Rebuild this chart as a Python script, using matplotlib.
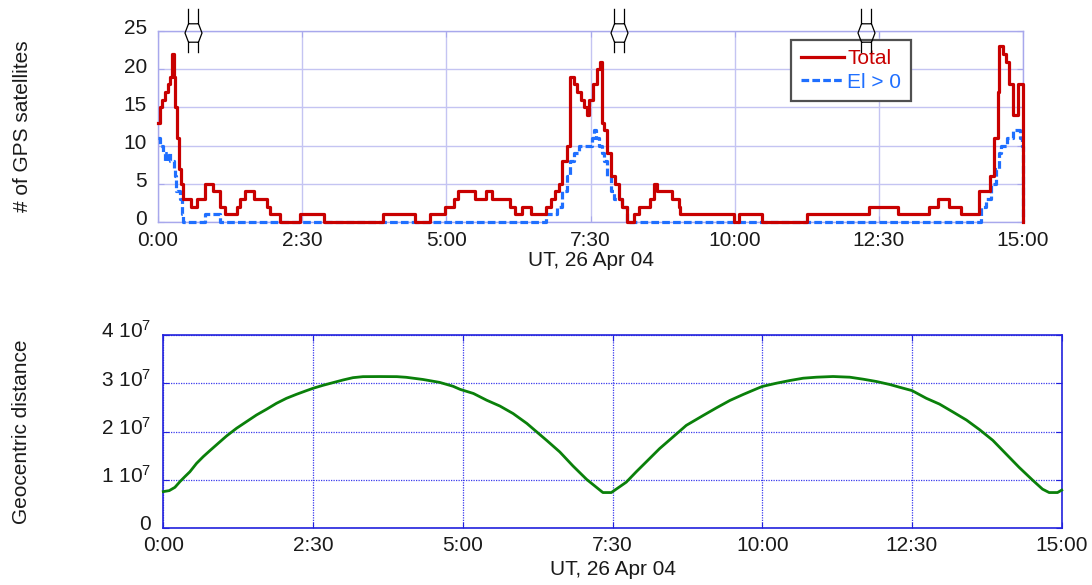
import numpy as np
import matplotlib
matplotlib.use('Agg')
import matplotlib.pyplot as plt
import matplotlib.transforms as mtransforms
from matplotlib.path import Path

plt.rcParams['font.family'] = ['Liberation Sans', 'DejaVu Sans']
plt.rcParams['mathtext.fontset'] = 'custom'
plt.rcParams['mathtext.rm'] = 'Liberation Sans'
plt.rcParams['mathtext.default'] = 'regular'

# ---------------- data ----------------
time_ticks = [0, 2.5, 5, 7.5, 10, 12.5, 15]
time_labels = ['0:00', '2:30', '5:00', '7:30', '10:00', '12:30', '15:00']
gps_ticks = [0, 5, 10, 15, 20, 25]
dist_ticks = [0, 1e7, 2e7, 3e7, 4e7]
dist_labels = ['0', '1 10$^{7}$', '2 10$^{7}$', '3 10$^{7}$', '4 10$^{7}$']
x_title = 'UT, 26 Apr 04'

# Total number of GPS satellites (step changes: hour, count)
total_t = [0.00, 0.035, 0.064, 0.12, 0.18, 0.21, 0.24, 0.25, 0.27, 0.30, 0.33, 0.37, 0.40, 0.43,
           0.58, 0.67, 0.82, 0.96, 1.08, 1.16, 1.37, 1.43, 1.51, 1.66, 1.89, 1.94, 2.12, 2.47,
           2.87, 3.91, 4.46, 4.72, 4.98, 5.13, 5.21, 5.50, 5.68, 5.79, 6.11, 6.19, 6.31, 6.46,
           6.72, 6.81, 6.89, 6.95, 7.01, 7.09, 7.15, 7.21, 7.27, 7.33, 7.38, 7.44, 7.48, 7.55,
           7.62, 7.67, 7.70, 7.73, 7.79, 7.85, 7.93, 7.99, 8.05, 8.14, 8.25, 8.34, 8.54, 8.60,
           8.66, 8.92, 9.03, 9.06, 9.99, 10.08, 10.48, 11.26, 12.33, 12.83, 13.37, 13.52, 13.72,
           13.92, 14.24, 14.42, 14.50, 14.56, 14.59, 14.65, 14.71, 14.76, 14.82, 14.91, 15.0]
total_n = [13, 15, 16, 17, 18, 19, 21, 22, 19, 15, 11, 7, 5, 3,
           2, 3, 5, 4, 2, 1, 2, 3, 4, 3, 2, 1, 0, 1,
           0, 1, 0, 1, 2, 3, 4, 3, 4, 3, 2, 1, 2, 1,
           2, 3, 4, 5, 8, 10, 19, 18, 17, 16, 15, 14, 16, 18,
           20, 21, 13, 12, 9, 6, 5, 3, 2, 0, 1, 2, 3, 5,
           4, 3, 2, 1, 0, 1, 0, 1, 2, 1, 2, 3, 2,
           1, 4, 6, 11, 17, 23, 22, 21, 18, 14, 18, 0]

# Satellites with elevation > 0
el_t = [0.00, 0.035, 0.09, 0.12, 0.15, 0.20, 0.27, 0.30, 0.32, 0.38, 0.41, 0.44, 0.82, 1.08,
        6.72, 6.92, 7.01, 7.09, 7.15, 7.21, 7.30, 7.53, 7.56, 7.59, 7.64, 7.70, 7.73, 7.79,
        7.85, 7.90, 8.05, 8.14, 14.27, 14.36, 14.44, 14.53, 14.59, 14.62, 14.73, 14.82, 14.94,
        14.99, 15.0]
el_n = [11, 10, 9, 8, 9, 8, 7, 6, 4, 3, 1, 0, 1, 0,
        1, 2, 4, 6, 8, 9, 10, 11, 12, 11, 10, 9, 8, 6,
        4, 3, 2, 0, 2, 3, 5, 7, 9, 10, 11, 12, 11,
        10, 0]

# Hourglass markers along the top edge (hour)
marker_times = [0.61, 7.99, 12.28]

# Geocentric distance (hour, units of 1e7)
dist_t = [0.00, 0.10, 0.194, 0.278, 0.361, 0.444, 0.556, 0.667, 0.778, 0.917, 1.056, 1.222,
          1.389, 1.556, 1.722, 1.889, 2.056, 2.222, 2.389, 2.50, 2.667, 2.833, 3.00, 3.167,
          3.333, 3.61, 3.90, 4.055, 4.334, 4.612, 4.835, 4.956, 5.178, 5.40, 5.62, 5.84,
          6.07, 6.23, 6.40, 6.62, 6.84, 7.07, 7.23, 7.34, 7.48, 7.62, 7.73, 7.897,
          8.064, 8.287, 8.51, 8.732, 9.017, 9.239, 9.461, 9.683, 9.906, 10.0, 10.239, 10.461,
          10.683, 10.906, 11.183, 11.461, 11.683, 11.906, 12.128, 12.29, 12.50, 12.74, 12.96,
          13.18, 13.41, 13.63, 13.85, 14.07, 14.29, 14.52, 14.68, 14.79, 14.93, 15.0]
dist_v = [0.759, 0.78, 0.848, 0.966, 1.07, 1.17, 1.345, 1.483, 1.607, 1.759, 1.91, 2.069,
          2.207, 2.345, 2.462, 2.586, 2.69, 2.772, 2.848, 2.897, 2.959, 3.014, 3.069, 3.117,
          3.138, 3.14, 3.138, 3.125, 3.08, 3.02, 2.94, 2.875, 2.79, 2.65, 2.53, 2.375,
          2.17, 2.00, 1.82, 1.58, 1.29, 1.01, 0.85, 0.74, 0.74, 0.86, 0.955, 1.17,
          1.375, 1.65, 1.89, 2.13, 2.337, 2.495, 2.646, 2.77, 2.887, 2.935, 3.003, 3.058,
          3.106, 3.127, 3.141, 3.127, 3.086, 3.038, 2.976, 2.92, 2.85, 2.69, 2.57,
          2.41, 2.24, 2.04, 1.82, 1.54, 1.26, 0.99, 0.81, 0.74, 0.74, 0.79]

# ---------------- figure ----------------
W, H = 1092, 585
fig = plt.figure(figsize=(W / 100, H / 100), dpi=100)
ax1 = fig.add_axes([158 / W, 1 - 222 / H, 865 / W, 191 / H])
ax2 = fig.add_axes([163.3 / W, 1 - 528.3 / H, 898.4 / W, 193.3 / H])

FS = 15
txt_col = '#1a1a1a'


def lift_labels(ax, pts):
    off = mtransforms.ScaledTranslation(0, pts / 72, fig.dpi_scale_trans)
    for lab in ax.get_yticklabels():
        lab.set_transform(lab.get_transform() + off)


# ---- top panel ----
ax1.plot(el_t, el_n, drawstyle='steps-post', color='#1f6fff', lw=2.3,
         ls=(0, (2.4, 1.0)), label='El > 0', clip_on=False, zorder=3)
ax1.plot(total_t, total_n, drawstyle='steps-post', color='#c80000', lw=2.3,
         label='Total', clip_on=False, zorder=4)
ax1.set_xlim(0, 15)
ax1.set_ylim(0, 25)
ax1.set_xticks(time_ticks)
ax1.set_xticklabels(time_labels)
ax1.set_yticks(gps_ticks)
ax1.grid(True, color='#c4c4f2', lw=1.0, ls='-')
ax1.set_axisbelow(True)
for s in ax1.spines.values():
    s.set_color('#a8a8ec')
    s.set_linewidth(1.0)
ax1.tick_params(axis='both', direction='in', length=4, color='#a8a8ec',
                labelsize=FS, labelcolor=txt_col, right=True, top=True)
ax1.tick_params(axis='x', pad=6.5)
ax1.tick_params(axis='y', pad=8)
lift_labels(ax1, 2.9)
ax1.set_ylabel('# of GPS satellites', fontsize=FS, color=txt_col)
ax1.yaxis.set_label_coords(-0.1457, 0.5)
ax1.set_xlabel(x_title, fontsize=FS, color=txt_col)
ax1.xaxis.set_label_coords(0.5, -0.152)

handles, labels = ax1.get_legend_handles_labels()
leg = ax1.legend(handles[::-1], labels[::-1], loc='upper left', bbox_to_anchor=(0.732, 0.953),
                 frameon=True, fancybox=False, edgecolor='#505050', framealpha=1,
                 fontsize=FS, handlelength=2.1, handletextpad=0.15, borderpad=0.45,
                 labelspacing=0.2, borderaxespad=0)
leg.get_frame().set_linewidth(1.6)
for t, l in zip(leg.get_texts(), leg.get_lines()):
    t.set_color(l.get_color())

# hourglass-like markers on top edge (shape in pixel-like units)
verts = [(-5, 22.7), (-5, 7.7), (-8.5, -1.5), (-5, -10.7), (-5, -21.7),
         (5, 22.7), (5, 7.7), (8.5, -1.5), (5, -10.7), (5, -21.7),
         (-5, 7.7), (5, 7.7),
         (-5, -10.7), (5, -10.7)]
codes = [Path.MOVETO] + [Path.LINETO] * 4 + [Path.MOVETO] + [Path.LINETO] * 4 + \
        [Path.MOVETO, Path.LINETO, Path.MOVETO, Path.LINETO]
hg = Path(verts, codes)
ax1.plot(marker_times, [1.0] * len(marker_times), transform=ax1.get_xaxis_transform(),
         ls='none', marker=hg, markersize=32.7, mfc='none', mec='black', mew=0.9,
         clip_on=False, zorder=10)

# ---- bottom panel ----
ax2.plot(dist_t, np.array(dist_v) * 1e7, color='#0a800a', lw=2.0, clip_on=False, zorder=3)
ax2.set_xlim(0, 15)
ax2.set_ylim(0, 4e7)
ax2.set_xticks(time_ticks)
ax2.set_xticklabels(time_labels)
ax2.set_yticks(dist_ticks)
ax2.set_yticklabels(dist_labels)
ax2.grid(True, color='#3a3aee', lw=0.9, ls=(0, (1, 1)))
ax2.set_axisbelow(True)
for s in ax2.spines.values():
    s.set_color('#2222dd')
    s.set_linewidth(1.2)
ax2.tick_params(axis='both', direction='in', length=4, color='#2222dd',
                labelsize=FS, labelcolor=txt_col, right=True, top=True)
ax2.tick_params(axis='x', pad=5.5)
ax2.tick_params(axis='y', pad=9)
lift_labels(ax2, 4.3)
ax2.set_ylabel('Geocentric distance', fontsize=FS, color=txt_col)
ax2.yaxis.set_label_coords(-0.147, 0.5)
ax2.set_xlabel(x_title, fontsize=FS, color=txt_col)
ax2.xaxis.set_label_coords(0.5, -0.164)

fig.savefig('out.png', dpi=100)
